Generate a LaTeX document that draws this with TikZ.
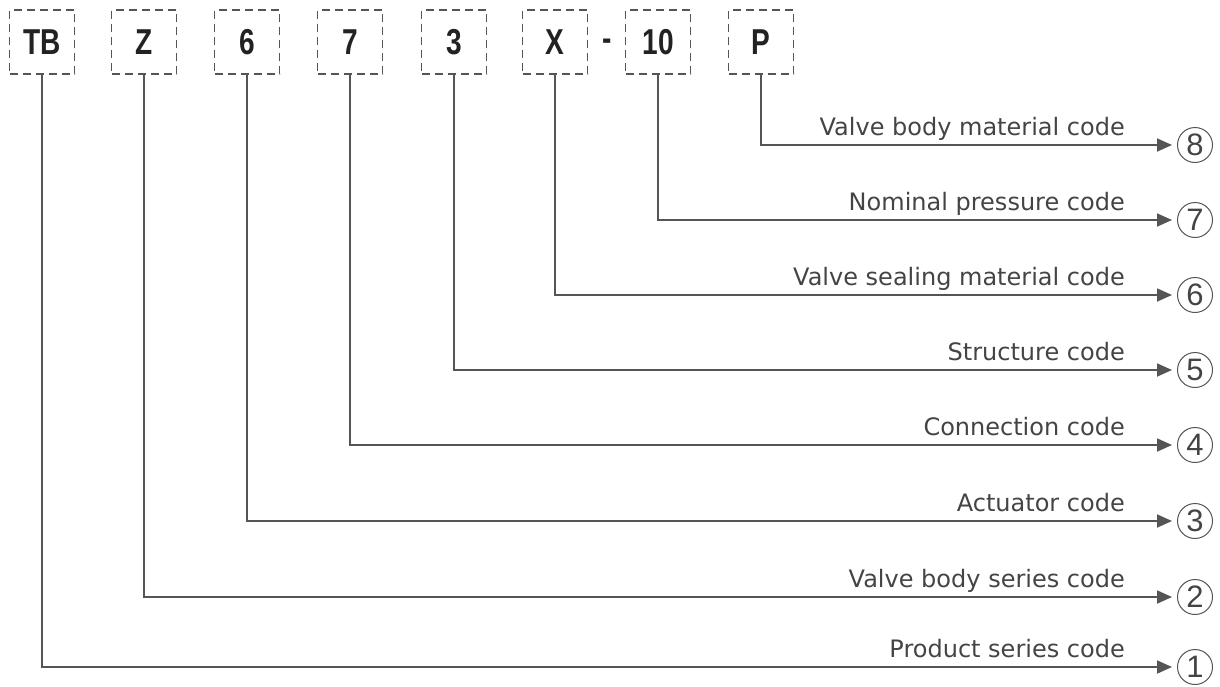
\documentclass[tikz,border=0pt]{standalone}
\usepackage{fontspec}
\setmainfont{DejaVu Sans}
\newfontfamily\boxfont[FakeStretch=0.78]{Liberation Sans}
\newfontfamily\numfont{Liberation Sans}
\usetikzlibrary{arrows.meta}
\definecolor{ln}{HTML}{555555}
\definecolor{tx}{HTML}{444444}
\definecolor{bx}{HTML}{222222}
\begin{document}
\begin{tikzpicture}[x=1pt,y=-1pt,
 codebox/.style={draw=ln, line width=1.5pt, dash pattern=on 8pt off 5pt, minimum width=65pt, minimum height=64pt, inner sep=0pt, font=\boxfont\bfseries\fontsize{36}{40}\selectfont, text=bx},
 lead/.style={draw=ln, line width=1.8pt, -{Triangle[length=15pt,width=13pt]}, shorten >=5pt},
 lab/.style={anchor=base east, inner sep=0pt, text=tx, font=\fontsize{24}{28}\selectfont},
 num/.style={circle, draw=ln, line width=1pt, minimum size=35pt, inner sep=0pt, text=tx, font=\numfont\fontsize{31}{34}\selectfont}]
\useasboundingbox (0,0) rectangle (1220,686);
% code boxes
\node[codebox] (b1) at (42,42) {TB};
\node[codebox] (b2) at (144,42) {Z};
\node[codebox] (b3) at (247,42) {6};
\node[codebox] (b4) at (350,42) {7};
\node[codebox] (b5) at (454,42) {3};
\node[codebox] (b6) at (555,42) {X};
\node[codebox] (b7) at (658,42) {10};
\node[codebox] (b8) at (761,42) {P};
\node[inner sep=0pt, text=bx, font=\boxfont\bfseries\fontsize{36}{40}\selectfont] (dash) at (607,45) {-};
% circled numbers
\node[num] (n8) at (1195,145) {8};
\node[num] (n7) at (1195,220) {7};
\node[num] (n6) at (1195,295) {6};
\node[num] (n5) at (1195,370) {5};
\node[num] (n4) at (1195,445) {4};
\node[num] (n3) at (1195,521) {3};
\node[num] (n2) at (1195,597) {2};
\node[num] (n1) at (1195,667) {1};
% labels
\node[lab] (l8) at (1125,135) {Valve body material code};
\node[lab] (l7) at (1125,210) {Nominal pressure code};
\node[lab] (l6) at (1125,285) {Valve sealing material code};
\node[lab] (l5) at (1125,360) {Structure code};
\node[lab] (l4) at (1125,435) {Connection code};
\node[lab] (l3) at (1125,511) {Actuator code};
\node[lab] (l2) at (1125,587) {Valve body series code};
\node[lab] (l1) at (1125,657) {Product series code};
% connectors
\draw[lead] (b8.south) |- (n8.west);
\draw[lead] (b7.south) |- (n7.west);
\draw[lead] (b6.south) |- (n6.west);
\draw[lead] (b5.south) |- (n5.west);
\draw[lead] (b4.south) |- (n4.west);
\draw[lead] (b3.south) |- (n3.west);
\draw[lead] (b2.south) |- (n2.west);
\draw[lead] (b1.south) |- (n1.west);
\end{tikzpicture}
\end{document}
